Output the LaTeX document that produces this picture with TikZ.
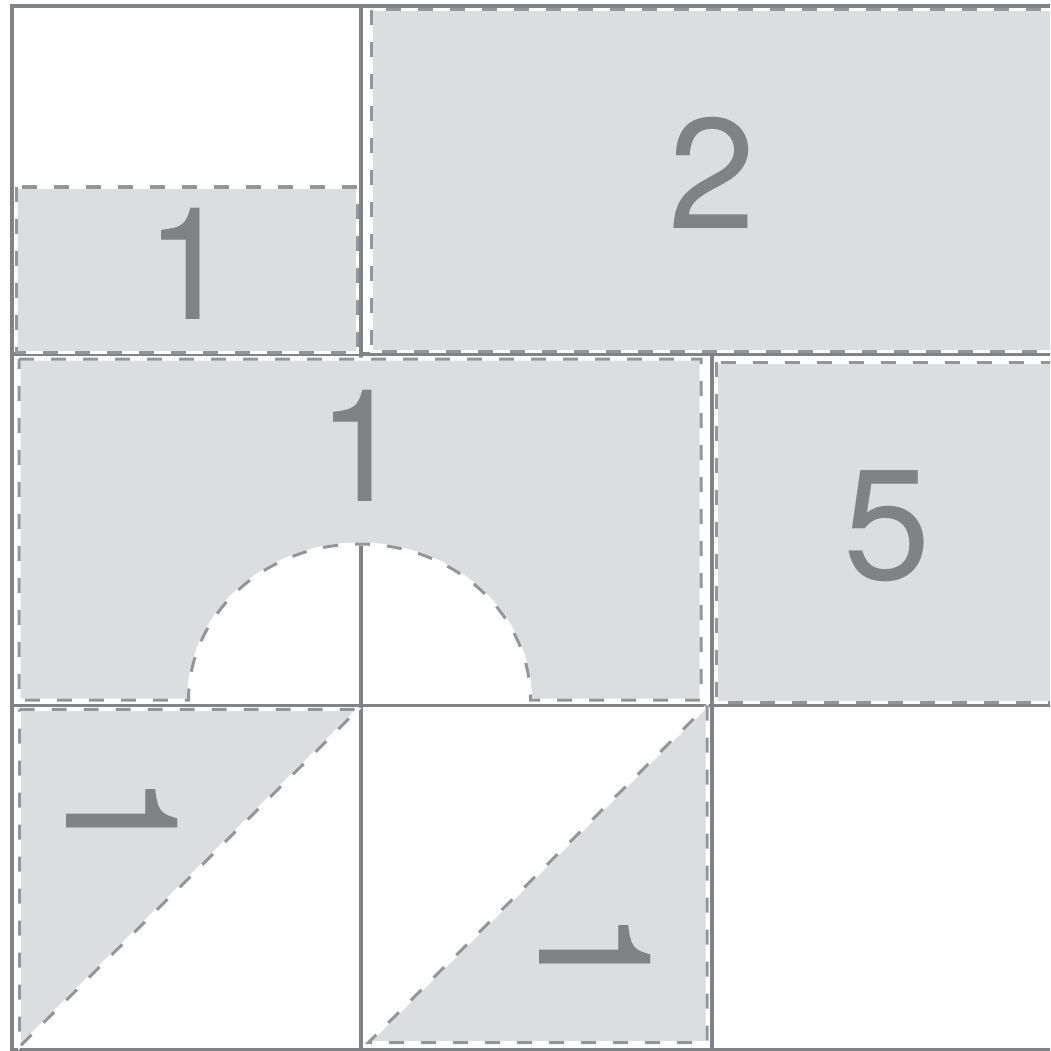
\documentclass[tikz,border=0pt]{standalone}
\usepackage{fontspec}
\setmainfont{TeX Gyre Heros}
\definecolor{gridgray}{RGB}{128,130,133}
\definecolor{dashgray}{RGB}{147,149,152}
\definecolor{piecefill}{RGB}{220,221,223}
\tikzset{
  gridline/.style={draw=gridgray, line width=3.6pt, line cap=rect},
  piece/.style={fill=piecefill, draw=white, line width=3pt, line join=miter,
    postaction={draw=dashgray, line width=3pt, dash pattern=on 15pt off 17pt}},
  digit/.style={text=gridgray, inner sep=0pt, font=\fontsize{157}{157}\selectfont},
}
\begin{document}
\begin{tikzpicture}[x=1pt, y=-1pt]
\useasboundingbox (0,0) rectangle (1050,1051);
\clip (0,0) rectangle (1050,1051);
% grid
\draw[gridline] (11.7,6) -- (1070,6)
  (11.7,354) -- (1070,354)
  (11.7,705.3) -- (1070,705.3)
  (11.7,1049.3) -- (1070,1049.3)
  (11.7,6) -- (11.7,1049.3)
  (361,6) -- (361,1049.3)
  (711.7,6) -- (711.7,1049.3);
% pieces
\path[piece] (16.7,187) rectangle (357.7,352.3);
\path[piece] (371,10) rectangle (1053,351);
\path[piece] (19,359) -- (701,359) -- (701,700) -- (530.5,700)
  arc[start angle=0, end angle=180, x radius=171pt, y radius=156pt]
  -- (19,700) -- cycle;
\path[piece] (716,362) rectangle (1058,702);
\path[piece] (19.5,709.3) -- (358.3,709.3) -- (19.5,1046.7) -- cycle;
\path[piece] (707,705.5) -- (707,1042.7) -- (368.3,1042.7) -- cycle;
% labels
\node[digit, anchor=base] (n1a) at (188.8,319.3) {1};
\node[digit, anchor=base] (n2) at (711.8,228.3) {2};
\node[digit, anchor=base] (n1b) at (361,501) {1};
\node[digit, anchor=base] (n5) at (887,579.7) {5};
\node[digit, rotate=-90] (n1c) at (122.2,816.7) {1};
\node[digit, rotate=-90] (n1d) at (594.7,953) {1};
\end{tikzpicture}
\end{document}
